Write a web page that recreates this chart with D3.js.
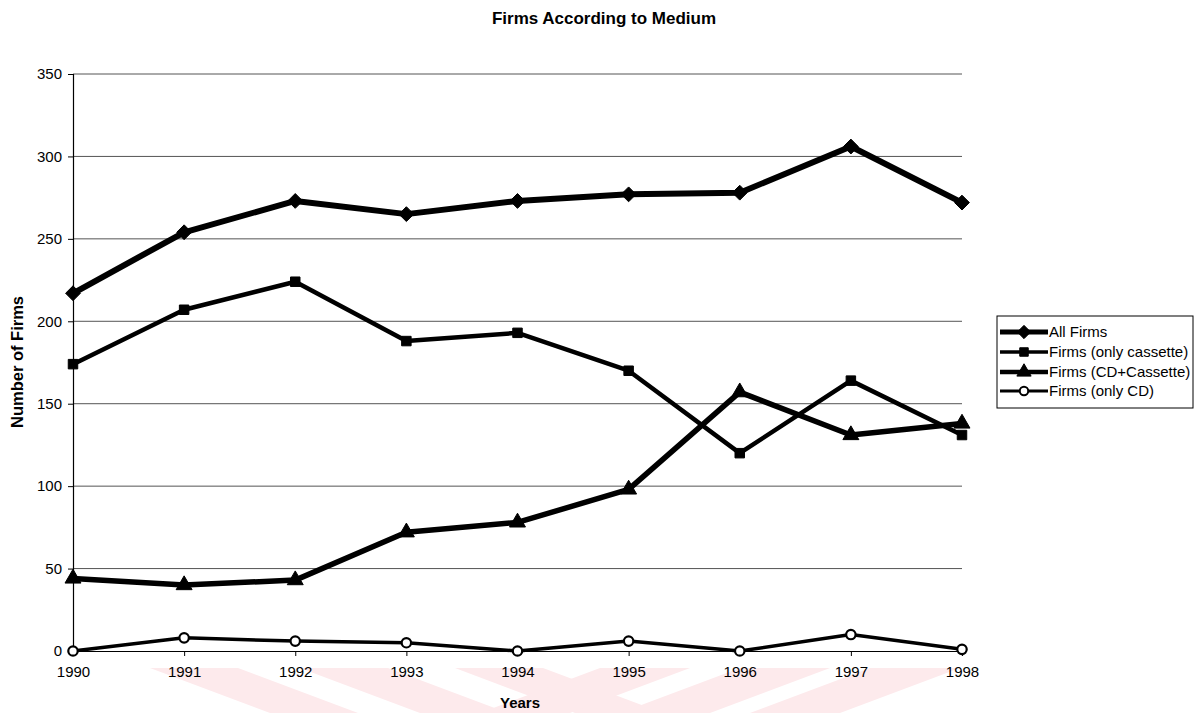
<!DOCTYPE html>
<html>
<head>
<meta charset="utf-8">
<script src="https://cdn.jsdelivr.net/npm/d3@7"></script>
<style>
  html, body { margin: 0; padding: 0; background: #fff; }
  svg { display: block; font-family: "Liberation Sans", Arial, sans-serif; }
</style>
</head>
<body>
<svg id="chart" width="1195" height="713"></svg>
<script>
// ---- Data ----
const years = [1990, 1991, 1992, 1993, 1994, 1995, 1996, 1997, 1998];
const allFirms = [217, 254, 273, 265, 273, 277, 278, 306, 272];
const onlyCassette = [174, 207, 224, 188, 193, 170, 120, 164, 131];
const cdPlusCassette = [44, 40, 43, 72, 78, 98, 157, 131, 138];
const onlyCD = [0, 8, 6, 5, 0, 6, 0, 10, 1];
const seriesNames = ["All Firms", "Firms (only cassette)", "Firms (CD+Cassette)", "Firms (only CD)"];
const yTicks = [0, 50, 100, 150, 200, 250, 300, 350];
const titleText = "Firms According to Medium";
const xTitle = "Years";
const yTitle = "Number of Firms";

// ---- Layout ----
const svg = d3.select("#chart");
const plotLeft = 73, plotRight = 962, plotTop = 74, plotBottom = 651;
const x = d3.scaleLinear().domain([1990, 1998]).range([plotLeft, plotRight]);
const y = d3.scaleLinear().domain([0, 350]).range([plotBottom, plotTop]);

// faint watermark stripes at the bottom
const wm = svg.append("g").attr("fill", "#fdeaec");
const backStripes = [150, 300, 455];
backStripes.forEach(s => {
  wm.append("path").attr("d", `M${s},668 L${s + 88},668 L${s + 208},713 L${s + 120},713 Z`);
});
const fwdStripes = [600, 740, 870];
fwdStripes.forEach(s => {
  wm.append("path").attr("d", `M${s},668 L${s + 90},668 L${s - 30},713 L${s - 120},713 Z`);
});

// gridlines
svg.append("g").selectAll("line")
  .data(yTicks.filter(d => d > 0))
  .join("line")
  .attr("x1", plotLeft).attr("x2", plotRight)
  .attr("y1", d => y(d)).attr("y2", d => y(d))
  .attr("stroke", "#555").attr("stroke-width", 1);

// axes
const yAxis = svg.append("g")
  .attr("transform", `translate(${plotLeft},0)`)
  .call(d3.axisLeft(y).tickValues(yTicks).tickSize(5).tickPadding(6));
const xAxis = svg.append("g")
  .attr("transform", `translate(0,${plotBottom})`)
  .call(d3.axisBottom(x).tickValues(years).tickFormat(d3.format("d")).tickSize(5).tickPadding(10));
[yAxis, xAxis].forEach(g => {
  g.selectAll("text").attr("font-size", 15).attr("fill", "#000")
    .attr("font-family", "'Liberation Sans', Arial, sans-serif");
  g.selectAll("line,path").attr("stroke", "#000");
  g.select(".domain").attr("stroke-width", 1.2);
});

// rotated square = diamond marker
const diamond = {
  draw(ctx, size) {
    const r = Math.sqrt(size / 2);
    ctx.moveTo(0, -r); ctx.lineTo(r, 0); ctx.lineTo(0, r); ctx.lineTo(-r, 0); ctx.closePath();
  }
};

// series
const series = [
  { name: seriesNames[0], values: allFirms, width: 6, symbol: diamond, size: 110, fill: "#000" },
  { name: seriesNames[1], values: onlyCassette, width: 4.5, symbol: d3.symbolSquare, size: 90, fill: "#000" },
  { name: seriesNames[2], values: cdPlusCassette, width: 5.5, symbol: d3.symbolTriangle, size: 110, fill: "#000" },
  { name: seriesNames[3], values: onlyCD, width: 3.5, symbol: d3.symbolCircle, size: 70, fill: "#fff" }
];

const line = d3.line().x((d, i) => x(years[i])).y(d => y(d));
series.forEach(s => {
  const g = svg.append("g");
  g.append("path").datum(s.values)
    .attr("d", line).attr("fill", "none")
    .attr("stroke", "#000").attr("stroke-width", s.width)
    .attr("stroke-linejoin", "round");
  g.selectAll("path.m").data(s.values).join("path")
    .attr("class", "m")
    .attr("transform", (d, i) => `translate(${x(years[i])},${y(d)})`)
    .attr("d", d3.symbol().type(s.symbol).size(s.size))
    .attr("fill", s.fill).attr("stroke", "#000").attr("stroke-width", s.fill === "#fff" ? 2.2 : 1);
});

// title & axis titles
svg.append("text").attr("x", 604).attr("y", 24).attr("text-anchor", "middle")
  .attr("font-size", 17).attr("font-weight", "bold").text(titleText);
svg.append("text").attr("x", 520).attr("y", 708).attr("text-anchor", "middle")
  .attr("font-size", 15).attr("font-weight", "bold").text(xTitle);
svg.append("text").attr("transform", "translate(23,362) rotate(-90)").attr("text-anchor", "middle")
  .attr("font-size", 16.5).attr("font-weight", "bold").text(yTitle);

// legend
const lg = svg.append("g");
lg.append("rect").attr("x", 997).attr("y", 316).attr("width", 196).attr("height", 92)
  .attr("fill", "#fff").attr("stroke", "#000").attr("stroke-width", 1);
const legendY = [332, 352, 372, 391];
series.forEach((s, i) => {
  const yy = legendY[i];
  lg.append("line").attr("x1", 1000).attr("x2", 1048).attr("y1", yy).attr("y2", yy)
    .attr("stroke", "#000").attr("stroke-width", s.width * 0.8);
  lg.append("path").attr("transform", `translate(1024,${yy})`)
    .attr("d", d3.symbol().type(s.symbol).size(s.size * 0.8))
    .attr("fill", s.fill).attr("stroke", "#000").attr("stroke-width", s.fill === "#fff" ? 2 : 1);
  lg.append("text").attr("x", 1049).attr("y", yy + 5).attr("font-size", 15).text(s.name);
});
</script>
</body>
</html>
